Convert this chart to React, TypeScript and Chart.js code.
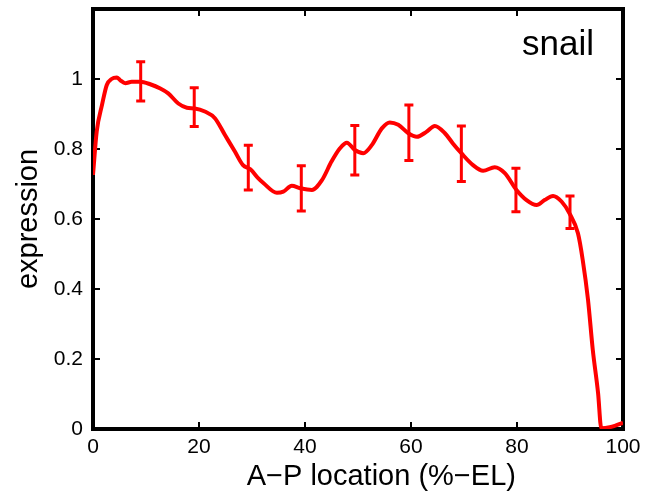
import React, { useEffect, useRef } from "react";
import { Chart, registerables } from "chart.js";

Chart.register(...registerables);

// A-P location (%-EL) of the sampled curve points
const positions = [
  0, 0.7, 1.7, 2.6, 3.5, 4.5, 5.1, 6.1, 7.3, 8.9, 10.8, 12.7, 14.2, 16.1, 17.7,
  19.2, 21.1, 23.0, 24.9, 26.8, 28.3, 29.7, 31.2, 32.2, 34.7, 35.9, 37.5, 39.1,
  41.3, 43.2, 45.0, 46.6, 47.9, 49.4, 51.0, 52.6, 54.5, 56.0, 57.6, 59.5, 61.1,
  62.9, 64.5, 66.4, 67.9, 69.5, 71.7, 73.6, 75.8, 77.7, 79.9, 81.8, 83.7, 85.2,
  86.8, 88.4, 89.9, 91.5, 92.4, 93.4, 94.3, 95.3, 95.9, 97.5, 99.7, 100,
];
// expression values of the curve
const expression = [
  0.726, 0.85, 0.926, 0.983, 1.0, 1.004, 0.997, 0.988, 0.992, 0.992, 0.985,
  0.973, 0.959, 0.93, 0.918, 0.916, 0.907, 0.888, 0.84, 0.792, 0.754, 0.742,
  0.716, 0.702, 0.675, 0.678, 0.695, 0.688, 0.683, 0.711, 0.764, 0.802, 0.818,
  0.797, 0.788, 0.811, 0.859, 0.876, 0.869, 0.845, 0.835, 0.849, 0.866, 0.845,
  0.816, 0.788, 0.754, 0.738, 0.748, 0.731, 0.683, 0.654, 0.64, 0.654, 0.666,
  0.65, 0.616, 0.559, 0.483, 0.369, 0.226, 0.102, 0.002, 0.005, 0.016, 0.018,
];

// error bars
const barPositions = [9, 19.1, 29.3, 39.3, 49.4, 59.6, 69.5, 79.8, 90];
const barLow = [0.937, 0.864, 0.683, 0.623, 0.726, 0.767, 0.707, 0.621, 0.573];
const barHigh = [1.049, 0.975, 0.811, 0.752, 0.867, 0.926, 0.866, 0.745, 0.666];

const xTicks = [0, 20, 40, 60, 80, 100];
const yTicks = [0, 0.2, 0.4, 0.6, 0.8, 1];

const geneLabel = "snail";
const xTitle = "A\u2212P location (%\u2212EL)";
const yTitle = "expression";

const FONT = "'Liberation Sans', Arial, Helvetica, sans-serif";
const RED = "#ff0000";

const framePlugin = {
  id: "frameTicks",
  beforeDatasetsDraw(chart: any) {
    const { ctx, chartArea, scales } = chart;
    const { left, top, right, bottom } = chartArea;
    ctx.save();
    ctx.strokeStyle = "#000";
    ctx.lineWidth = 4;
    ctx.strokeRect(left, top, right - left, bottom - top);
    ctx.lineWidth = 2;
    const tl = 7;
    ctx.beginPath();
    scales.x.ticks.forEach((t: any) => {
      const px = scales.x.getPixelForValue(t.value);
      ctx.moveTo(px, bottom);
      ctx.lineTo(px, bottom - tl);
      ctx.moveTo(px, top);
      ctx.lineTo(px, top + tl);
    });
    scales.y.ticks.forEach((t: any) => {
      const py = scales.y.getPixelForValue(t.value);
      ctx.moveTo(left, py);
      ctx.lineTo(left + tl, py);
      ctx.moveTo(right, py);
      ctx.lineTo(right - tl, py);
    });
    ctx.stroke();
    ctx.restore();
  },
};

const errorBarPlugin = {
  id: "errorBars",
  afterDatasetsDraw(chart: any) {
    const { ctx, scales } = chart;
    ctx.save();
    ctx.strokeStyle = RED;
    ctx.lineWidth = 3;
    const cap = 4.5;
    barPositions.forEach((xv, i) => {
      const px = scales.x.getPixelForValue(xv);
      const y1 = scales.y.getPixelForValue(barLow[i]);
      const y2 = scales.y.getPixelForValue(barHigh[i]);
      ctx.beginPath();
      ctx.moveTo(px, y1);
      ctx.lineTo(px, y2);
      ctx.moveTo(px - cap, y1);
      ctx.lineTo(px + cap, y1);
      ctx.moveTo(px - cap, y2);
      ctx.lineTo(px + cap, y2);
      ctx.stroke();
    });
    ctx.restore();
  },
};

const textPlugin = {
  id: "texts",
  afterDraw(chart: any) {
    const { ctx, chartArea } = chart;
    const { left, top, right, bottom } = chartArea;
    ctx.save();
    ctx.fillStyle = "#000";
    ctx.font = `35px ${FONT}`;
    ctx.textAlign = "right";
    ctx.textBaseline = "alphabetic";
    ctx.fillText(geneLabel, right - 29, top + 46);
    ctx.font = `29px ${FONT}`;
    ctx.textAlign = "center";
    ctx.fillText(xTitle, left + (right - left) * 0.544, bottom + 56);
    ctx.restore();
  },
};

export default function App() {
  const canvasRef = useRef<HTMLCanvasElement | null>(null);

  useEffect(() => {
    if (!canvasRef.current) return;
    const chart = new Chart(canvasRef.current, {
      type: "line",
      data: {
        datasets: [
          {
            data: positions.map((x, i) => ({ x, y: expression[i] })),
            borderColor: RED,
            borderWidth: 4,
            pointRadius: 0,
            fill: false,
            cubicInterpolationMode: "monotone",
          },
        ],
      },
      options: {
        animation: false,
        responsive: false,
        events: [],
        layout: { padding: { top: 9, right: 27, left: 0, bottom: 0 } },
        plugins: {
          legend: { display: false },
          tooltip: { enabled: false },
        },
        scales: {
          x: {
            type: "linear",
            min: 0,
            max: 100,
            grid: { display: false, drawTicks: false },
            border: { display: false },
            afterBuildTicks: (s: any) => {
              s.ticks = xTicks.map((v) => ({ value: v }));
            },
            afterFit: (s: any) => {
              s.height = 63;
              s.paddingLeft = 0;
              s.paddingRight = 0;
            },
            ticks: {
              padding: 6,
              color: "#000",
              font: { family: FONT, size: 21 },
              maxRotation: 0,
              callback: (v: any) => String(Number(v)),
            },
          },
          y: {
            type: "linear",
            min: 0,
            max: 1.2,
            grid: { display: false, drawTicks: false },
            border: { display: false },
            afterBuildTicks: (s: any) => {
              s.ticks = yTicks.map((v) => ({ value: v }));
            },
            afterFit: (s: any) => {
              s.width = 93;
              s.paddingTop = 0;
              s.paddingBottom = 0;
            },
            ticks: {
              padding: 10,
              color: "#000",
              font: { family: FONT, size: 21 },
              callback: (v: any) => String(Number(v)),
            },
            title: {
              display: true,
              text: yTitle,
              color: "#000",
              font: { family: FONT, size: 29 },
              padding: { top: 12, bottom: 0 },
            },
          },
        },
      },
      plugins: [framePlugin, errorBarPlugin, textPlugin],
    } as any);
    return () => chart.destroy();
  }, []);

  return (
    <div style={{ position: "absolute", left: 0, top: 0, width: 650, height: 492, background: "#fff" }}>
      <canvas ref={canvasRef} width={650} height={492} style={{ display: "block" }} />
    </div>
  );
}
